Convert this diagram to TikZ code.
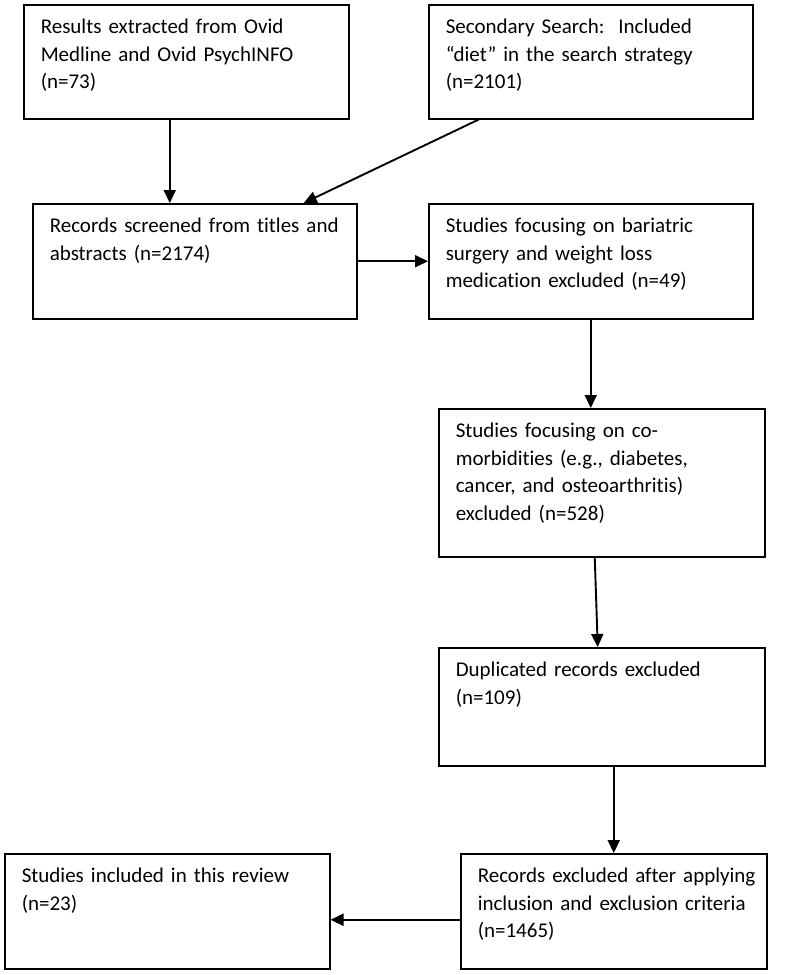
\documentclass[tikz,border=0pt]{standalone}
\usepackage{fontspec}
\setmainfont{Carlito}[Ligatures=NoCommon]
\usetikzlibrary{arrows.meta,
							calc,
							positioning}

\begin{document}
\begin{tikzpicture}[x=1pt, y=-1pt,
	font=\fontsize{21}{27.5}\selectfont,
		base/.style = {draw, line width=1.5pt, anchor=north west, align=left,
									 inner xsep=17pt, inner ysep=14pt, text height=15pt},
 flowbox/.style 2 args = {base, text width=#1, text depth=#2},
	 conn/.style = {line width=1.9pt, arrows=-{Triangle[length=13pt, width=12pt]}}]

\useasboundingbox (0,0) rectangle (789,975);

\node (ovid)   [flowbox={291pt}{71pt}]  at (23,4)
		{Results extracted from Ovid\\Medline and Ovid PsychINFO\\(n=73)};          % <-- 1
\node (second) [flowbox={290pt}{71pt}]  at (428,4)
		{Secondary Search:\ \ Included\\“diet” in the search strategy\\(n=2101)};    % <-- 2
\node (screen) [flowbox={290pt}{72pt}]  at (32,203)
		{Records screened from titles and\\abstracts (n=2174)};                     % <-- 3
\node (bariat) [flowbox={290pt}{72pt}]  at (428,203)
		{Studies focusing on bariatric\\surgery and weight loss\\medication excluded (n=49)};
\node (comorb) [flowbox={292pt}{105pt}] at (438,408)
		{Studies focusing on co-\\morbidities (e.g., diabetes,\\cancer, and osteoarthritis)\\excluded (n=528)};
\node (dupl)   [flowbox={292pt}{75pt}]  at (438,647)
		{Duplicated records excluded\\(n=109)};
\node (crit)   [flowbox={272pt}{72pt}]  at (460,853)
		{\mbox{Records excluded after applying}\\\mbox{inclusion and exclusion criteria}\\(n=1465)};
\node (incl)   [flowbox={291pt}{72pt}]  at (4,853)
		{Studies included in this review\\(n=23)};

%%
\draw [conn] ([xshift=-16.5pt]ovid.south) -- ([xshift=-16.5pt]ovid.south |- screen.north);
\draw [conn] ([xshift=-112pt]second.south) -- ([xshift=109pt]screen.north);
\draw [conn] (screen.east) -- (screen.east -| bariat.west);
\draw [conn] (bariat.south) -- (bariat.south |- comorb.north);
\draw [conn] ([xshift=-7pt]comorb.south) -- ([xshift=-4pt]dupl.north);
\draw [conn] (dupl.south -| crit.north) -- (crit.north);
\draw [conn] ([yshift=-8.5pt]crit.west) -- ([yshift=-8.5pt]crit.west -| incl.east);
\end{tikzpicture}
\end{document}
